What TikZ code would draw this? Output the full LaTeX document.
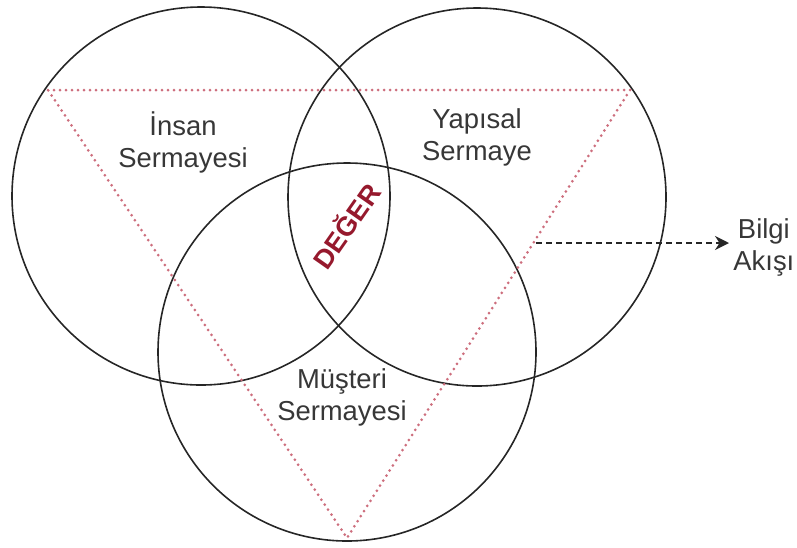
\documentclass[tikz,border=0pt]{standalone}
\usepackage{fontspec}
\setmainfont{Liberation Sans}
\usetikzlibrary{arrows.meta,positioning}
\definecolor{vennred} {RGB}{205,110,125}
\definecolor{degerred}{RGB}{150,25,45}
\definecolor{txtgray} {RGB}{55,55,55}

\begin{document}
\begin{tikzpicture}[x=0.5pt, y=-0.5pt,
  ring/.style={circle, draw=black!85, line width=0.8pt,
               minimum size=189pt, inner sep=0pt},
  lbl/.style={align=center, text=txtgray,
              font=\fontsize{13.7}{16}\selectfont},
  tri/.style={vennred, line width=1.5pt, line cap=round,
              dash pattern=on 0pt off 3pt},
  flow/.style={-{Stealth[length=7pt,width=7pt]}, densely dashed,
               black!85, line width=0.9pt}
]
  \useasboundingbox (0,0) rectangle (797,547);

  % the three circles
  \node[ring] (insan)   at (201,196) {};
  \node[ring] (yapisal) at (477,197) {};
  \node[ring] (musteri) at (347,352) {};

  % dotted triangle
  \coordinate (tl) at (48,90);
  \coordinate (tr) at (630,90);
  \coordinate (bt) at (347,538);
  \draw[tri] (tl) -- (tr) -- (bt) -- cycle;

  \node[lbl] (lInsan)   at (183,142) {İnsan\\Sermayesi};
  \node[lbl] (lYapisal) at (477,137) {Yapısal\\Sermaye};
  \node[lbl] (lMusteri) at (342,397) {Müşteri\\Sermayesi};

  \node[rotate=55, text=degerred, inner sep=0pt,
        font=\fontsize{13.5}{16}\selectfont\bfseries] (deger)
    at (345,225) {DEĞER};

  % information flow
  \coordinate (fstart) at (536,243);
  \node[lbl, anchor=west, inner sep=2pt] (bilgi) at (729,247) {Bilgi\\Akışı};
  \draw[flow] (fstart) -- (fstart -| bilgi.west);
\end{tikzpicture}
\end{document}
